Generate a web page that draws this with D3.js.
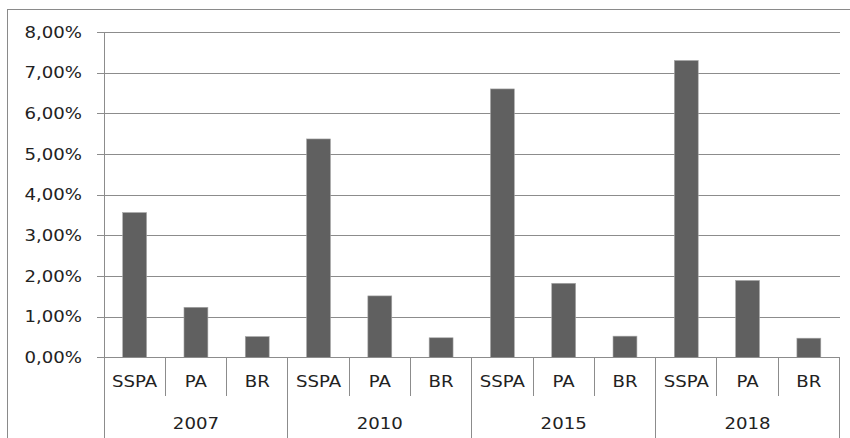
<!DOCTYPE html>
<html>
<head>
<meta charset="utf-8">
<script src="https://cdn.jsdelivr.net/npm/d3@7/dist/d3.min.js"></script>
<style>
  html, body { margin: 0; padding: 0; background: #fff; }
  svg { display: block; }
  text { font-family: "DejaVu Sans", Verdana, sans-serif; fill: #222; }
</style>
</head>
<body>
<svg id="chart" width="850" height="438"></svg>
<script>
const years = ["2007", "2010", "2015", "2018"];
const groups = ["SSPA", "PA", "BR"];
const values2007 = [3.56, 1.23, 0.51];
const values2010 = [5.37, 1.51, 0.48];
const values2015 = [6.60, 1.82, 0.52];
const values2018 = [7.30, 1.89, 0.47];
const yTicks = [0, 1, 2, 3, 4, 5, 6, 7, 8];
const tickLabels = ["0,00%", "1,00%", "2,00%", "3,00%", "4,00%", "5,00%", "6,00%", "7,00%", "8,00%"];

(function () {
const seriesByYear = [values2007, values2010, values2015, values2018];
const data = [];
years.forEach((yr, i) => groups.forEach((g, j) => data.push({ year: yr, group: g, key: yr + "|" + g, value: seriesByYear[i][j] })));

const svg = d3.select("#chart");
const pLeft = 104, pRight = 839.5, pTop = 32, pBottom = 357.3;
const sx = 1.17, fs = 15.5;

// outer border
svg.append("rect").attr("x", 7.5).attr("y", 9.5).attr("width", 900).attr("height", 500)
  .attr("fill", "none").attr("stroke", "#8a8a8a").attr("stroke-width", 1);

const x = d3.scaleBand().domain(data.map(d => d.key)).range([pLeft, pRight]).paddingInner(0.61).paddingOuter(0.305);
const xCat = d3.scaleBand().domain(data.map(d => d.key)).range([pLeft, pRight]);
const xYear = d3.scaleBand().domain(years).range([pLeft, pRight]);
const y = d3.scaleLinear().domain([0, 8]).range([pBottom, pTop]);

// gridlines + ticks
const yAxis = d3.axisLeft(y).tickValues(yTicks).tickSize(-(pRight - pLeft)).tickFormat("");
const gy = svg.append("g").attr("transform", `translate(${pLeft},0)`).call(yAxis);
gy.select(".domain").remove();
gy.selectAll(".tick line").attr("stroke", "#8c8c8c").attr("x1", -7).attr("shape-rendering", "crispEdges");

// y labels
svg.append("g").selectAll("text").data(yTicks).join("text")
  .attr("transform", d => `translate(82,${y(d)}) scale(${sx},1)`)
  .attr("text-anchor", "end").attr("dy", "0.36em").attr("font-size", fs)
  .text((d, i) => tickLabels[i]);

// bars
svg.append("g").selectAll("rect").data(data).join("rect")
  .attr("x", d => x(d.key)).attr("width", x.bandwidth())
  .attr("y", d => y(d.value)).attr("height", d => y(0) - y(d.value))
  .attr("fill", "#606060").attr("stroke", "#a8a8a8").attr("stroke-width", 0.6);

// axes lines
const axisColor = "#8c8c8c";
const lines = svg.append("g").attr("stroke", axisColor).attr("stroke-width", 1).attr("shape-rendering", "crispEdges");
lines.append("line").attr("x1", pLeft).attr("x2", pLeft).attr("y1", pTop).attr("y2", 438);
lines.append("line").attr("x1", pLeft).attr("x2", pRight).attr("y1", y(0)).attr("y2", y(0));
data.forEach((d, i) => {
  if (i === 0) return;
  const xx = xCat(d.key);
  const isYearBoundary = d.group === groups[0];
  lines.append("line").attr("x1", xx).attr("x2", xx).attr("y1", y(0)).attr("y2", isYearBoundary ? 438 : 396);
});
lines.append("line").attr("x1", pRight).attr("x2", pRight).attr("y1", y(0)).attr("y2", 438);

// category labels
svg.append("g").selectAll("text").data(data).join("text")
  .attr("transform", d => `translate(${xCat(d.key) + xCat.bandwidth() / 2},381) scale(${sx},1)`)
  .attr("text-anchor", "middle").attr("dy", "0.36em").attr("font-size", fs)
  .text(d => d.group);

// year labels
svg.append("g").selectAll("text").data(years).join("text")
  .attr("transform", d => `translate(${xYear(d) + xYear.bandwidth() / 2},423) scale(${sx},1)`)
  .attr("text-anchor", "middle").attr("dy", "0.36em").attr("font-size", fs)
  .text(d => d);
})();
</script>
</body>
</html>
